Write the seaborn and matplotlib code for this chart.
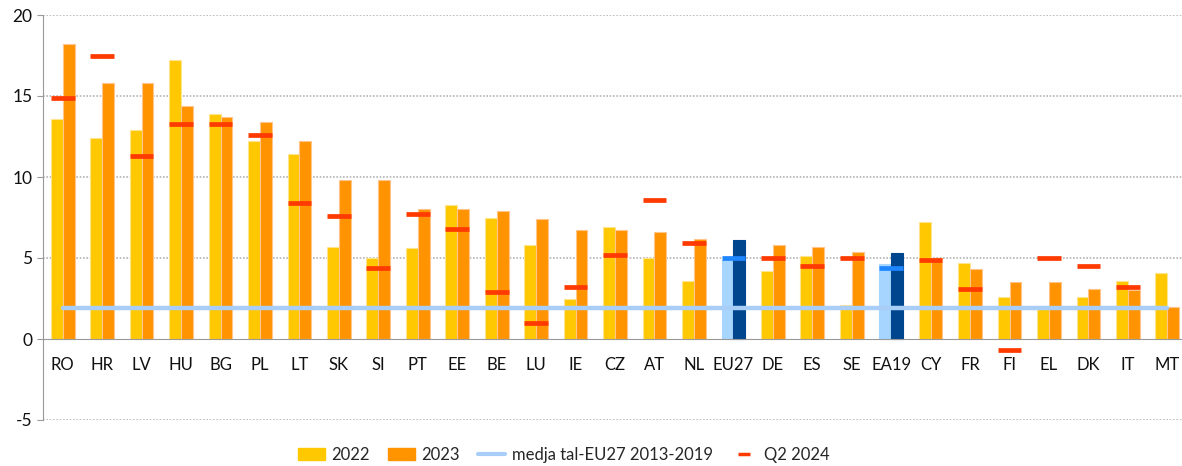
import numpy as np
import pandas as pd
import seaborn as sns
import matplotlib.pyplot as plt
from matplotlib.patches import Patch
from matplotlib.lines import Line2D

countries = ["RO", "HR", "LV", "HU", "BG", "PL", "LT", "SK", "SI", "PT", "EE", "BE", "LU", "IE", "CZ",
             "AT", "NL", "EU27", "DE", "ES", "SE", "EA19", "CY", "FR", "FI", "EL", "DK", "IT", "MT"]
v2022 = [13.6, 12.4, 12.9, 17.2, 13.9, 12.2, 11.4, 5.7, 5.0, 5.6, 8.3, 7.5, 5.8, 2.5, 6.9,
         5.0, 3.6, 4.9, 4.2, 5.1, 2.1, 4.6, 7.2, 4.7, 2.6, 2.0, 2.6, 3.6, 4.1]
v2023 = [18.2, 15.8, 15.8, 14.4, 13.7, 13.4, 12.2, 9.8, 9.8, 8.0, 8.0, 7.9, 7.4, 6.7, 6.7,
         6.6, 6.2, 6.1, 5.8, 5.7, 5.4, 5.3, 5.0, 4.3, 3.5, 3.5, 3.1, 3.0, 2.0]
q2_2024 = [14.9, 17.5, 11.3, 13.3, 13.3, 12.6, 8.4, 7.6, 4.4, 7.7, 6.8, 2.9, 1.0, 3.2, 5.2,
           8.6, 5.9, 5.0, 5.0, 4.5, 5.0, 4.4, 4.9, 3.1, -0.7, 5.0, 4.5, 3.2, np.nan]
eu_mean = 1.9

yellow, orange = "#FFC800", "#FF9300"
light_blue, dark_blue = "#A6D6FF", "#00468E"
red, blue_mark = "#FF3A00", "#1E86FF"
line_blue = "#A8CDF7"

df = pd.DataFrame({"country": countries * 2,
                   "year": ["2022"] * len(countries) + ["2023"] * len(countries),
                   "value": v2022 + v2023})

sns.set_style("white")
plt.rcParams["font.family"] = ["Lato", "DejaVu Sans"]
plt.rcParams["axes.unicode_minus"] = False

fig = plt.figure(figsize=(11.82, 4.66), dpi=100)
ax = fig.add_axes([43 / 1182, 1 - 420 / 466, 1 - 43 / 1182, (420 - 15) / 466])

sns.barplot(data=df, x="country", y="value", hue="year", palette=[yellow, orange],
            saturation=1, width=0.6, ax=ax, legend=False, zorder=2)
edges = ["#FFE48F", "#FFC58A"]
for cont, ec in zip(ax.containers, edges):
    for p in cont:
        p.set_edgecolor(ec)
        p.set_linewidth(0.8)
# EU27 and EA19 in blue
for i in [countries.index("EU27"), countries.index("EA19")]:
    ax.containers[0][i].set_facecolor(light_blue)
    ax.containers[0][i].set_edgecolor(light_blue)
    ax.containers[1][i].set_facecolor(dark_blue)
    ax.containers[1][i].set_edgecolor(dark_blue)

# EU average line
sns.lineplot(x=np.arange(len(countries)), y=[eu_mean] * len(countries), color=line_blue,
             linewidth=3.2, ax=ax, zorder=3)

# Q2 2024 markers
xs = np.arange(len(countries))
mcolors = [blue_mark if c in ("EU27", "EA19") else red for c in countries]
ax.hlines(q2_2024, xs - 0.3, xs + 0.3, colors=mcolors, linewidth=3.4, zorder=4)

ax.set_xlim(-0.5, -0.5 + (1182 - 43) / 39.45)
ax.set_ylim(-5, 20)
ax.set_yticks([-5, 0, 5, 10, 15, 20])
ax.set_xlabel("")
ax.set_ylabel("")
for y in [-5, 5, 10, 15, 20]:
    ax.axhline(y, color="#B4B4B4", linestyle=(0, (1, 1)), linewidth=1.2, zorder=0)

for s in ["top", "right"]:
    ax.spines[s].set_visible(False)
ax.spines["bottom"].set_position(("data", 0))
ax.spines["bottom"].set_color("#999999")
ax.spines["left"].set_color("#999999")
ax.spines["bottom"].set_zorder(5)
ax.set_xticks(xs)
ax.set_xticklabels(countries)
ax.set_xticks(xs[:-1] + 0.5, minor=True)
ax.tick_params(axis="x", which="major", length=0, labelsize=12, pad=13, labelcolor="#111111")
ax.tick_params(axis="x", which="minor", direction="out", length=4, color="#999999", width=1)
ax.tick_params(axis="y", direction="out", length=4, color="#999999", labelsize=12.5, left=True,
               labelcolor="#111111")

handles = [Patch(facecolor=yellow, edgecolor=yellow),
           Patch(facecolor=orange, edgecolor=orange),
           Line2D([], [], color=line_blue, linewidth=3),
           Line2D([], [], color=red, marker="_", linestyle="none", markersize=8, markeredgewidth=2.5)]
labels = ["2022", "2023", "medja tal-EU27 2013-2019", "Q2 2024"]
fig.legend(handles, labels, loc="center", bbox_to_anchor=(0.477, 1 - 455 / 466), ncol=4,
           frameon=False, fontsize=12, handlelength=1.6, handleheight=0.7, columnspacing=1.1,
           handletextpad=0.4)

fig.savefig("out.png", dpi=100)
